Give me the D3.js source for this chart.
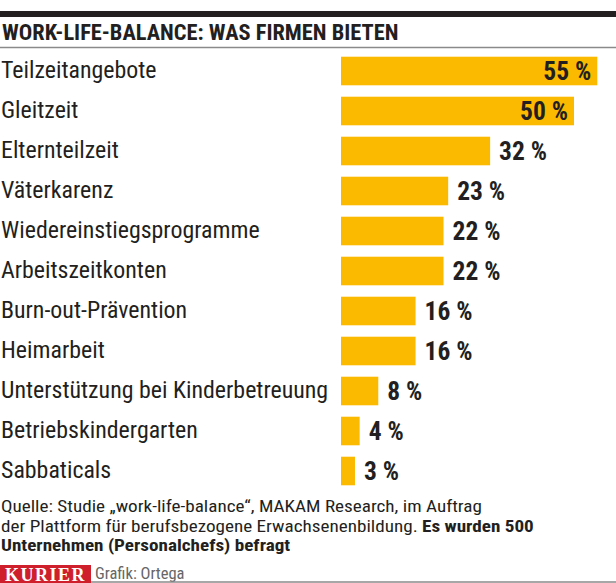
<!DOCTYPE html>
<html>
<head>
<meta charset="utf-8">
<script src="https://cdn.jsdelivr.net/npm/d3@7"></script>
<style>
  html, body { margin: 0; padding: 0; background: #fff; }
  svg { display: block; }
  text { font-family: "Roboto Condensed", Roboto, "Liberation Sans", sans-serif; }
</style>
</head>
<body>
<svg id="chart" width="616" height="583"></svg>
<script>
const title = "WORK-LIFE-BALANCE: WAS FIRMEN BIETEN";
const categories = [
  "Teilzeitangebote", "Gleitzeit", "Elternteilzeit", "Väterkarenz",
  "Wiedereinstiegsprogramme", "Arbeitszeitkonten", "Burn-out-Prävention",
  "Heimarbeit", "Unterstützung bei Kinderbetreuung", "Betriebskindergarten",
  "Sabbaticals"
];
const values = [55, 50, 32, 23, 22, 22, 16, 16, 8, 4, 3];
const sourceLines = [
  [{t: "Quelle: Studie „work-life-balance“, MAKAM Research, im Auftrag", b: false}],
  [{t: "der Plattform für berufsbezogene Erwachsenenbildung. ", b: false}, {t: "Es wurden 500", b: true}],
  [{t: "Unternehmen (Personalchefs) befragt", b: true}]
];
const brand = "KURIER";
const credit = "Grafik: Ortega";

const W = 616, H = 583;
const ink = "#231f20", barColor = "#fbba00", red = "#cf1f2d";
const svg = d3.select("#chart");

// header
svg.append("rect").attr("x", 0).attr("y", 11).attr("width", W).attr("height", 6).attr("fill", ink);
svg.append("text").attr("x", 2).attr("y", 39.5)
  .attr("font-size", 22.4).attr("font-weight", 700).attr("fill", ink).text(title);
svg.append("line").attr("x1", 0).attr("x2", W).attr("y1", 47.5).attr("y2", 47.5)
  .attr("stroke", "#8a8a8a").attr("stroke-width", 1.5);

const x = d3.scaleLinear().domain([0, 55]).range([341, 597.3]);
const y = d3.scaleBand().domain(categories).range([51, 491]).paddingInner(0.285).paddingOuter(0.1425);

const data = categories.map((c, i) => ({c, v: values[i]}));
const rows = svg.append("g").selectAll("g").data(data).join("g");

rows.append("rect")
  .attr("x", x(0)).attr("y", d => y(d.c))
  .attr("width", d => x(d.v) - x(0)).attr("height", y.bandwidth())
  .attr("fill", barColor);

rows.append("text")
  .attr("x", 1).attr("y", d => y(d.c) + y.bandwidth() / 2 + 7)
  .attr("font-size", 23.9).attr("fill", ink).text(d => d.c);

rows.append("text")
  .attr("x", d => d.v >= 50 ? x(d.v) - 6 : x(d.v) + 9)
  .attr("text-anchor", d => d.v >= 50 ? "end" : "start")
  .attr("y", d => y(d.c) + y.bandwidth() / 2 + 9)
  .attr("font-size", 25.5).attr("font-weight", 700).attr("fill", ink)
  .text(d => d.v + " %");

// source (slightly widened glyphs to match the original's wider face)
const srcG = svg.append("g").attr("transform", "translate(1,0) scale(1.14,1)");
sourceLines.forEach((line, li) => {
  const t = srcG.append("text").attr("font-size", 16.8).attr("fill", ink)
    .attr("x", 0).attr("y", 512.5 + li * 19.5);
  line.forEach(seg => {
    t.append("tspan").text(seg.t).attr("font-weight", seg.b ? 700 : 400);
  });
});

// footer
svg.append("rect").attr("x", 0).attr("y", 565).attr("width", 91).attr("height", 18).attr("fill", red);
svg.append("text").attr("x", 45.5).attr("y", 580.5).attr("text-anchor", "middle")
  .style("font-family", "'Liberation Serif', 'DejaVu Serif', serif")
  .attr("font-size", 18).attr("font-weight", 700).attr("letter-spacing", 1.5)
  .attr("fill", "#fff").text(brand);
svg.append("text").attr("x", 95).attr("y", 579).attr("font-size", 16.5).attr("fill", "#666").text(credit);
svg.append("line").attr("x1", 91).attr("x2", W).attr("y1", 582).attr("y2", 582)
  .attr("stroke", "#8a8a8a").attr("stroke-width", 1.5);
</script>
</body>
</html>
